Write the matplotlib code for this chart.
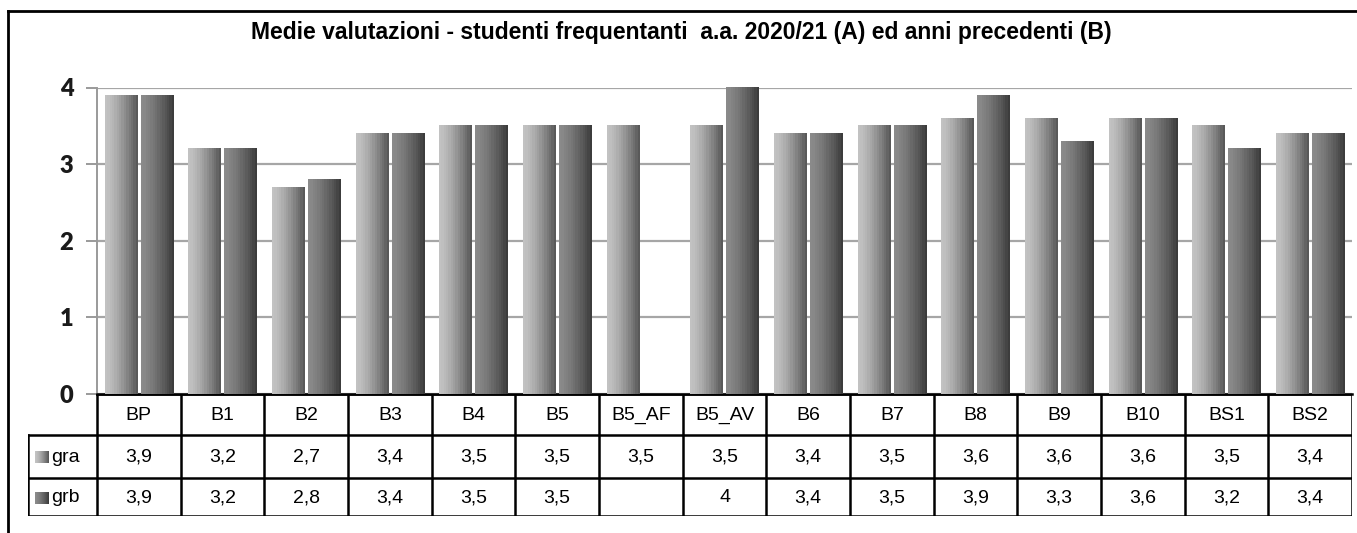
import numpy as np
import matplotlib
matplotlib.use("Agg")
import matplotlib.pyplot as plt
from matplotlib.lines import Line2D

# --- dati ---
categorie = ["BP", "B1", "B2", "B3", "B4", "B5", "B5_AF", "B5_AV",
             "B6", "B7", "B8", "B9", "B10", "BS1", "BS2"]
gra = [3.9, 3.2, 2.7, 3.4, 3.5, 3.5, 3.5, 3.5, 3.4, 3.5, 3.6, 3.6, 3.6, 3.5, 3.4]
grb = [3.9, 3.2, 2.8, 3.4, 3.5, 3.5, np.nan, 4.0, 3.4, 3.5, 3.9, 3.3, 3.6, 3.2, 3.4]
serie = ["gra", "grb"]
titolo = "Medie valutazioni - studenti frequentanti  a.a. 2020/21 (A) ed anni precedenti (B)"

W, H = 1357, 533
fig = plt.figure(figsize=(W / 100, H / 100), dpi=100)
fig.patch.set_facecolor("white")


def fx(px):
    return px / W


def fy(py):
    return 1 - py / H


# gradienti orizzontali (chiaro -> scuro)
t = np.linspace(0, 1, 14) ** 1.4
grad_a = 0.76 - (0.76 - 0.35) * t
grad_b = 0.54 - (0.54 - 0.24) * t
gradienti = [grad_a, grad_b]

# --- area grafico ---
x0, x1, y_top, y_zero = 97, 1352, 87.5, 394
ax = fig.add_axes([fx(x0), fy(y_zero), fx(x1 - x0), (y_zero - y_top) / H])
x = np.arange(len(categorie))
bw = 0.39
offs = [-0.215, 0.215]

for k, valori in enumerate([gra, grb]):
    g = gradienti[k]
    bars = ax.bar(x + offs[k], valori, width=bw, color="none", zorder=3, clip_on=False)
    for rect, v in zip(bars, valori):
        if np.isnan(v):
            continue
        xl = rect.get_x()
        img = np.tile(g, (2, 1))
        im = ax.imshow(img, cmap="gray", vmin=0, vmax=1, aspect="auto",
                       extent=(xl, xl + rect.get_width(), 0, v),
                       interpolation="nearest", zorder=3)
        im.set_clip_path(rect)
        im.set_clip_on(False)

ax.set_xlim(-0.5, len(categorie) - 0.5)
ax.set_ylim(0, 4)
ax.set_yticks([0, 1, 2, 3, 4])
ax.set_xticks([])
ax.yaxis.grid(True, color="#a6a6a6", linewidth=1.6)
ax.set_axisbelow(True)
for s in ["top", "right"]:
    ax.spines[s].set_visible(False)
ax.spines["left"].set_color("#9a9a9a")
ax.spines["left"].set_linewidth(1.4)
ax.spines["bottom"].set_color("black")
ax.spines["bottom"].set_linewidth(1.8)
ax.tick_params(axis="y", length=8, width=1.4, color="#9a9a9a", pad=9)
for lab in ax.get_yticklabels():
    lab.set_fontfamily("Lato")
    lab.set_fontweight("heavy")
    lab.set_fontsize(17)
    lab.set_color("#1a1a1a")

# --- tabella dati ---
tx0, ty0, ty1 = 28, 394, 516
righe = [394, 435, 478, 516]
cw = (x1 - x0) / len(categorie)
tab = fig.add_axes([fx(tx0), fy(ty1), fx(x1 - tx0), (ty1 - ty0) / H])
tab.set_xlim(-0.5 - (x0 - tx0) / cw, len(categorie) - 0.5)
tab.set_ylim(ty1, ty0)
tab.axis("off")

lw = 1.8
tab.plot([-0.5, len(categorie) - 0.5], [righe[0], righe[0]], color="black", lw=lw)
for r in righe[1:]:
    tab.plot([tab.get_xlim()[0], len(categorie) - 0.5], [r, r], color="black", lw=lw,
             solid_capstyle="projecting")
for i in range(len(categorie) + 1):
    tab.plot([i - 0.5, i - 0.5], [righe[0], righe[-1]], color="black", lw=lw)
tab.plot([tab.get_xlim()[0]] * 2, [righe[1], righe[-1]], color="black", lw=lw)

font_tab = dict(family="Liberation Sans", fontsize=14, ha="center", va="center", color="black")
for i, c in enumerate(categorie):
    tab.text(i, (righe[0] + righe[1]) / 2 + 1, c, **font_tab)


def fmt(v):
    if np.isnan(v):
        return ""
    return f"{v:g}".replace(".", ",")


for k, valori in enumerate([gra, grb]):
    yc = (righe[k + 1] + righe[k + 2]) / 2 + 1
    for i, v in enumerate(valori):
        tab.text(i, yc, fmt(v), **font_tab)
    # legenda nella tabella
    xs = -0.5 - (x0 - 35) / cw
    xe = -0.5 - (x0 - 48) / cw
    tab.imshow(np.tile(gradienti[k], (2, 1)), cmap="gray", vmin=0, vmax=1, aspect="auto",
               extent=(xs, xe, yc + 6, yc - 6), interpolation="nearest")
    tab.text(-0.5 - (x0 - 51) / cw, yc, serie[k], family="Liberation Sans",
             fontsize=14, ha="left", va="center", color="black")
tab.set_xlim(-0.5 - (x0 - tx0) / cw, len(categorie) - 0.5)
tab.set_ylim(ty1, ty0)

# --- titolo e cornice ---
fig.text(fx(681), fy(33), titolo, ha="center", va="center", fontsize=16.5,
         fontweight="bold", family="Liberation Sans")
fig.add_artist(Line2D([fx(8), 1], [fy(11), fy(11)], color="black", lw=2))
fig.add_artist(Line2D([fx(8), fx(8)], [fy(11), 0], color="black", lw=2))

fig.savefig("out.png", dpi=100, facecolor="white")
